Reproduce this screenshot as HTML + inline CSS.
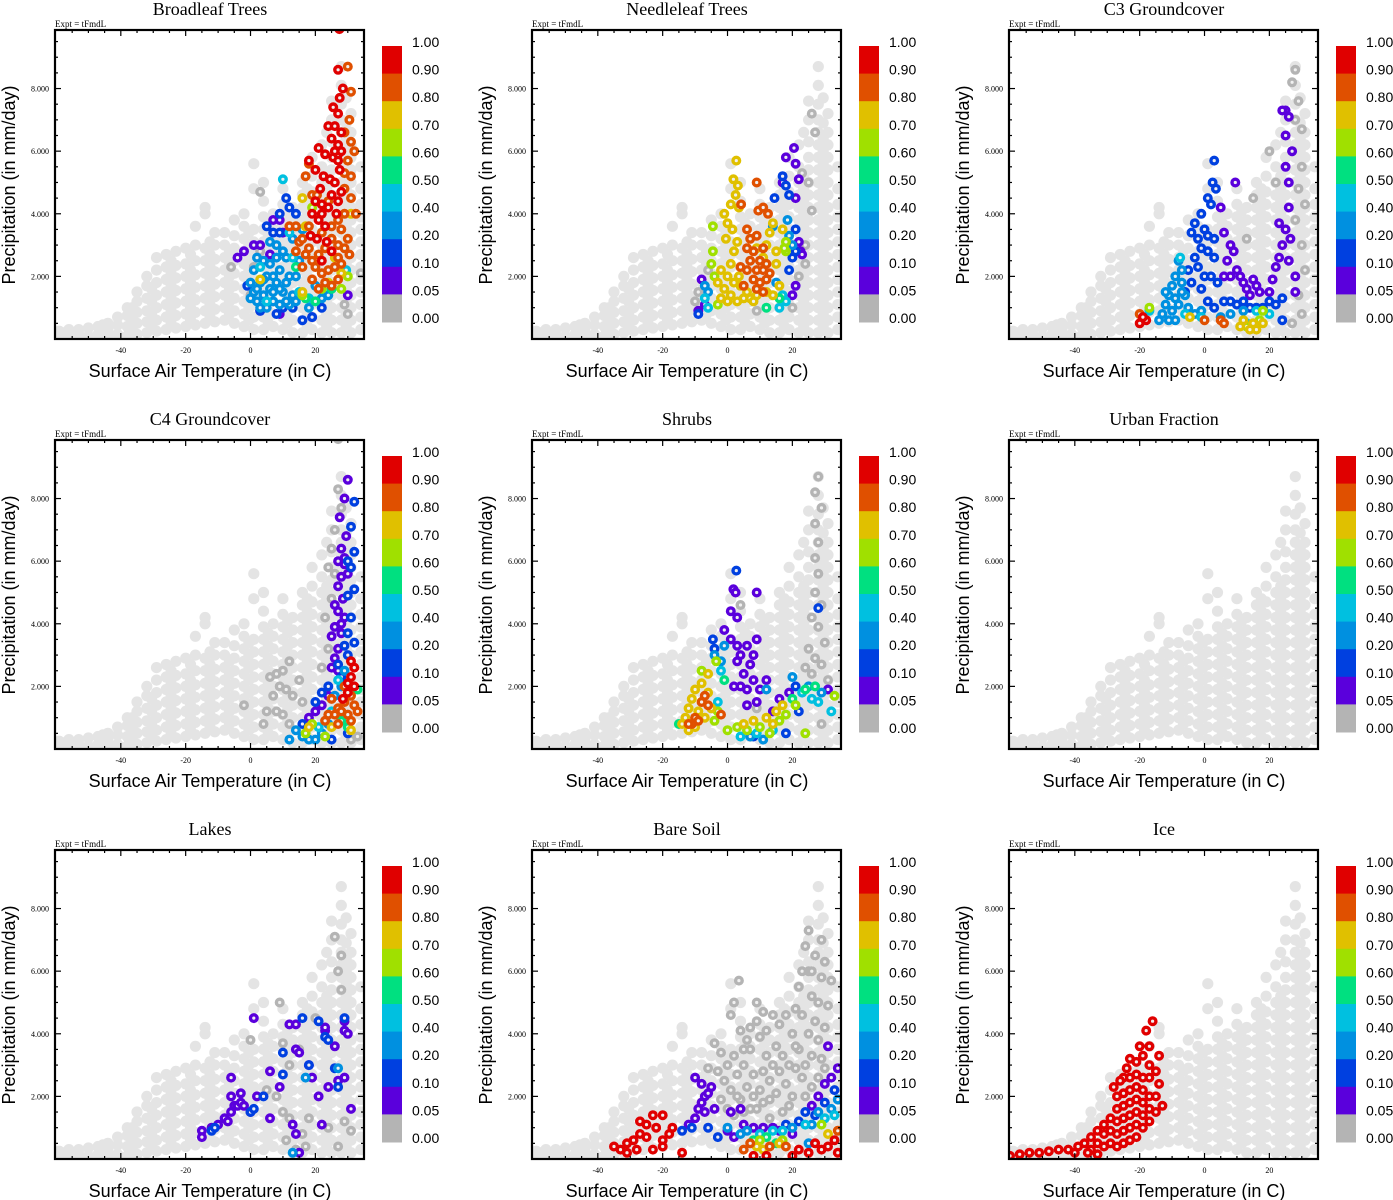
<!DOCTYPE html>
<html><head><meta charset="utf-8">
<style>
html,body{margin:0;padding:0;background:#fff;}
svg{display:block;}
.ttl{font-family:"Liberation Serif",serif;font-size:18px;}
.expt{font-family:"Liberation Serif",serif;font-size:9px;}
.tk{font-family:"Liberation Serif",serif;font-size:8px;}
.axt{font-family:"Liberation Sans",sans-serif;font-size:18px;}
.cbl{font-family:"Liberation Sans",sans-serif;font-size:14px;}
</style></head>
<body>
<svg id="fig" width="1393" height="1200" viewBox="0 0 1393 1200" xmlns="http://www.w3.org/2000/svg"></svg>
<script>
// ---- data ----
const panelTitles = ["Broadleaf Trees","Needleleaf Trees","C3 Groundcover","C4 Groundcover","Shrubs","Urban Fraction","Lakes","Bare Soil","Ice"];
const xTicks = [-40,-20,0,20];
const yTicks = [2,4,6,8];
const yTickLabels = ["2.000","4.000","6.000","8.000"];
const cbLabels = ["1.00","0.90","0.80","0.70","0.60","0.50","0.40","0.20","0.10","0.05","0.00"];
const cbBounds = [0.05,0.1,0.2,0.4,0.5,0.6,0.7,0.8,0.9];
const cbColors = ["#b4b4b4","#5a00dc","#0040e0","#0090e0","#00c0e0","#00e080","#a0e000","#e0c000","#e05000","#e00000"];
// background cloud: each row = [T, P values...]
const cloud = [
[-59,0.1,0.25],[-56,0.1,0.3],[-53,0.15,0.3],[-50,0.1,0.35],[-47,0.15,0.4],[-44,0.1,0.3,0.5],[-41,0.15,0.45,0.7],
[-38,0.1,0.4,0.75,1.0],[-35,0.15,0.5,0.85,1.2,1.5],[-32,0.2,0.55,0.9,1.3,1.7,2.0],[-29,0.25,0.6,1.0,1.4,1.8,2.2,2.6],
[-26,0.3,0.7,1.1,1.5,1.9,2.3,2.7],[-23,0.35,0.75,1.15,1.55,1.95,2.35,2.8],[-20,0.4,0.8,1.2,1.6,2.0,2.4,2.9],
[-17,0.45,0.85,1.25,1.65,2.05,2.5,3.0,3.6],[-14,0.5,0.9,1.3,1.7,2.1,2.5,2.9,4.0,4.2],[-11,0.55,0.95,1.35,1.75,2.15,2.55,3.0,3.4],
[-8,0.6,1.0,1.4,1.8,2.2,2.6,3.0,3.4],[-5,0.5,0.9,1.3,1.7,2.1,2.5,2.9,3.3,3.8],[-2,0.4,0.8,1.2,1.6,2.0,2.4,2.8,3.2,3.6,4.0],
[1,0.3,0.7,1.1,1.5,1.9,2.3,2.7,3.1,3.5,4.8,5.6],[4,0.3,0.7,1.1,1.5,1.9,2.3,2.7,3.1,3.5,3.9,4.4,5.0],
[7,0.4,0.8,1.2,1.6,2.0,2.4,2.8,3.2,3.6,4.0],[10,0.3,0.7,1.1,1.5,1.9,2.3,2.7,3.1,3.5,3.9,4.3,4.8],
[13,0.2,0.6,1.0,1.4,1.8,2.2,2.6,3.0,3.4,3.8,4.2],[16,0.2,0.6,1.0,1.4,1.8,2.2,2.6,3.0,3.4,3.8,4.2,4.6,5.0],
[19,0.3,0.7,1.1,1.5,1.9,2.3,2.7,3.1,3.5,3.9,4.3,4.7,5.2,5.8],[22,0.2,0.6,1.0,1.4,1.8,2.2,2.6,3.0,3.4,3.8,4.2,4.6,5.0,5.5,6.2],
[25,0.2,0.6,1.0,1.4,1.8,2.2,2.6,3.0,3.4,3.8,4.2,4.6,5.0,5.4,5.8,6.3,7.0,7.6],
[28,0.2,0.6,1.0,1.4,1.8,2.2,2.6,3.0,3.4,3.8,4.2,4.6,5.0,5.4,5.8,6.2,6.6,7.0,7.5,8.1,8.7],
[31,0.2,0.6,1.0,1.4,1.8,2.2,2.6,3.0,3.4,3.8,4.2,4.6,5.0,5.4,5.8,6.2,6.6,7.2],
[34,0.3,0.7,1.1,1.5,1.9,2.3,2.7,3.1,3.5,3.9,4.3,4.8,5.5],
[-57.5,0.2],[-45.5,0.2,0.45],[-36.5,0.3,0.65,1.0],[-30.5,0.4,0.8,1.2,1.6],[-24.5,0.5,0.9,1.3,1.7,2.1,2.5],[-18.5,0.6,1.0,1.4,1.8,2.2,2.7],
[-12.5,0.7,1.1,1.5,1.9,2.3,2.7,3.1],[-6.5,0.8,1.2,1.6,2.0,2.4,2.8],[-0.5,0.6,1.0,1.4,1.8,2.2,2.6,3.0,3.4],
[5.5,0.5,0.9,1.3,1.7,2.1,2.5,2.9,3.3,3.7],[11.5,0.5,0.9,1.3,1.7,2.1,2.5,2.9,3.3,3.7,4.1],
[17.5,0.4,0.8,1.2,1.6,2.0,2.4,2.8,3.2,3.6,4.0,4.4,4.8],[23.5,0.4,0.8,1.2,1.6,2.0,2.4,2.8,3.2,3.6,4.0,4.4,4.8,5.2,6.6],
[29.5,0.4,0.8,1.2,1.6,2.0,2.4,2.8,3.2,3.6,4.0,4.4,4.8,5.2,5.6,6.0,6.4,6.9,7.7]
];
const broadleafPts = [
[0,[[1,2.3],[-6,2.3],[3,4.7],[3,2.8],[30,0.8],[29,1.1],[34,2.1],[0,1.4]]],
[0.07,[[1,3.0],[3,3.0],[-4,2.6],[-2,2.8],[6,2.7],[7,3.8],[9,3.8],[10,3.4],[9,0.8],[19,0.7],[11,1.1],[3,0.9],[30,1.4],[5,2.5]]],
[0.15,[[5,3.6],[7,3.4],[9,3.4],[9,4.0],[11,4.5],[12,4.2],[14,4.0],[-1,1.7],[10,1.0],[13,1.0],[21,1.2],[22,1.0],[19,0.7],[8,0.8],[3,0.9],[16,0.6]]],
[0.3,[[0,1.8],[1,1.5],[2,1.2],[3,1.8],[4,1.4],[5,2.0],[6,1.6],[7,1.2],[8,1.8],[9,2.2],[10,1.5],[11,2.6],[12,2.0],[1,2.2],[3,1.0],[6,2.4],[8,2.6],[10,2.8],[13,1.4],[14,2.0],[2,2.6],[4,2.5],[5,1.0],[7,2.0],[9,1.1],[11,1.8],[12,1.1],[0,1.3],[13,3.2],[15,2.5],[16,3.5],[14,1.2],[6,3.1],[8,3.0],[9,1.6],[4,1.9],[2,1.6],[7,1.5],[11,1.2],[18,1.0],[20,1.7],[22,1.3],[24,1.4]]],
[0.45,[[10,5.1],[12,3.4],[3,2.3],[13,2.6],[15,1.5],[18,1.3],[29.5,2.2],[5,1.2]]],
[0.55,[[14,2.3],[17,1.3],[20,1.2],[25,1.6]]],
[0.65,[[19,4.2],[30,2.0],[16,1.4],[22,1.6],[28,1.6]]],
[0.75,[[16,4.5],[31,4.0],[17,3.6],[26,2.6],[3,1.9],[16,1.5],[24,1.8],[28,2.1]]],
[0.85,[[30,8.7],[31,7.9],[30.5,7.0],[29,6.6],[31,6.3],[32,6.0],[30,5.7],[29,5.3],[31,5.2],[17,5.2],[18,5.6],[19,4.6],[20.5,4.6],[24,4.4],[29,4.8],[31,4.5],[32.5,4.0],[29,4.0],[27,3.8],[25,3.6],[28,3.5],[30,3.2],[29,2.9],[27,2.6],[25,3.2],[23,2.9],[21,2.7],[19,2.5],[17,2.7],[15,3.1],[14,2.8],[16,3.2],[18,2.9],[20,2.3],[22,2.1],[24,2.2],[26,2.3],[28,2.4],[19,1.9],[21,1.6],[23,1.8],[25,1.7],[27,1.9],[16,2.3],[14,3.6],[12,3.6],[18,3.6],[30.5,2.7],[27,3.0],[22,3.4]]],
[0.95,[[27.4,9.9],[27,8.6],[28.5,8.0],[27.5,7.7],[25.5,7.4],[27,7.2],[24,6.8],[26,6.8],[28,6.6],[25,6.4],[27,6.2],[21,6.1],[23,5.9],[25.5,5.8],[27,5.7],[18,5.7],[20,5.4],[22.5,5.2],[24.5,5.1],[27.5,5.4],[26,5.0],[21.5,4.8],[25,4.6],[28,4.7],[20,4.4],[22,4.3],[24,4.2],[26.5,4.0],[19,4.0],[21,3.8],[23,3.6],[18.5,3.3],[20.5,3.2],[23.5,3.1],[25,2.8],[22,2.5],[27,5.9],[26,6.0],[28,6.0],[27,4.4],[22,4.0]]]
];
const needleleafPts = [
[0,[[26,7.2],[27,6.6],[23,5.3],[25,5.0],[26,4.1],[24,3.0],[24,2.4],[22,2.0],[-10,1.2],[-9,1.5],[-6,2.2],[9,0.9],[20,1.0]]],
[0.07,[[20.5,6.1],[18,5.8],[21,5.6],[22,5.1],[17,5.0],[21,4.5],[22,3.1],[22.5,2.8],[23,2.7],[21,1.7],[-8,1.9],[-9,0.9],[20,1.4],[-7,1.1]]],
[0.15,[[18,4.9],[17,5.2],[14.5,4.5],[19,4.6],[21,3.5],[21,2.8],[19,2.2],[20,2.6],[-9,0.8]]],
[0.3,[[-7,1.7],[-6,1.5],[14,3.6],[18.5,3.8],[19,3.3],[20,3.0],[15,1.8]]],
[0.45,[[-7,1.3],[-6,1.0],[17,1.4],[18,1.2],[16,1.0]]],
[0.55,[[12,1.0],[16,1.3]]],
[0.65,[[-4.5,3.6],[-4.5,2.8],[-5,2.4],[-4,2.0],[18,3.1],[18,2.8],[17.5,2.9],[-3,1.1]]],
[0.75,[[2.7,5.7],[1.8,5.1],[3.2,4.9],[2.5,4.6],[1,4.3],[3.5,4.2],[-1,4.0],[0,3.7],[1.5,3.5],[3,3.1],[-0.5,3.2],[2,2.8],[1,2.4],[3.5,2.0],[0,2.0],[-2,2.2],[-3,1.8],[-1,1.6],[1,1.4],[3,1.2],[5,1.3],[-2,1.3],[0,1.2],[2,1.8],[4,1.7],[6,1.5],[7,1.3],[8,1.2],[9,1.4],[12,1.5],[14,1.4],[13,3.4],[12,3.0],[14,3.7],[11,2.6],[9,2.9],[15,2.8],[17,3.5],[15,2.4],[16,1.7]]],
[0.85,[[9,5.0],[4.2,4.3],[9.5,4.1],[11,4.2],[12.5,4.0],[6,3.5],[7,3.2],[9,3.3],[6,2.9],[8,2.8],[7,2.5],[4,2.3],[6,2.2],[5,1.7],[9,2.2],[10,2.5],[11,2.2],[12,1.9],[10,1.8],[11,1.5],[9,1.6],[12,2.4],[11,2.9],[8,1.9],[13,2.1]]]
];
const c3Pts = [
[0,[[28,8.6],[27,8.2],[29,7.6],[28,7.0],[30,6.7],[27,6.0],[30,5.5],[29,4.8],[31,4.3],[28,3.8],[30,3.0],[31,2.2],[29,1.4],[22,5.0],[20,6.0],[15,4.5],[13,3.2],[30,0.8],[27,0.5]]],
[0.07,[[9.5,5.0],[5,4.2],[6,3.4],[8,3.0],[9,2.8],[7,2.5],[10,2.2],[11,2.0],[12,1.8],[13,1.6],[14,1.4],[15,1.9],[16,1.7],[17,1.5],[8,2.0],[6,2.0],[20,1.5],[21,1.9],[22,2.3],[23,2.6],[24,3.0],[25,3.5],[26,4.2],[26,5.0],[25,5.5],[27,6.0],[25,6.5],[25,7.3],[26,7.1],[24,7.3],[26.5,3.2],[23,3.7],[26,2.5],[28,1.5],[28,2.0]]],
[0.15,[[3,5.7],[2.5,5.0],[3.5,4.8],[1,4.5],[2,4.3],[-1,4.0],[0,3.5],[-2,3.2],[-4,3.4],[-3,3.7],[1,3.3],[3,3.2],[-1,2.9],[1,2.8],[3,2.6],[-3,2.6],[-5,2.2],[-2,2.3],[0,2.0],[2,2.0],[4,1.8],[-4,1.8],[-1,1.6],[6,1.2],[8,1.2],[10,1.1],[12,1.2],[14,1.0],[16,1.0],[18,1.0],[20,1.2],[22,1.1],[-6,1.5],[1,1.2],[3,1.0],[24,1.3],[24,0.6]]],
[0.3,[[-8,2.5],[-7,2.2],[-9,2.0],[-10,1.7],[-7,1.8],[-11,1.4],[-9,1.3],[-12,1.1],[-13,0.8],[-10,0.9],[-8,1.1],[-6,1.4],[-14,0.6],[-11,0.6],[-5,1.0],[-3,0.8],[-1,0.9],[5,0.7],[8,0.8],[12,0.9],[-7,1.5],[-12,1.5],[-9,0.6]]],
[0.45,[[-17,0.9],[-7.5,2.6],[-6,0.8],[-1,0.7],[13,0.5],[16,0.9],[20,0.8]]],
[0.65,[[-17,1.0],[13,0.4],[17,0.6],[18,0.9]]],
[0.75,[[-4.5,0.7],[11,0.4],[12,0.6],[15,0.5],[16,0.3],[18,0.5],[14,0.3]]],
[0.85,[[-20,0.8],[0,0.6],[5,0.6],[6,0.5]]],
[0.95,[[-20,0.5],[-18,0.6],[-19,0.7]]]
];
const c4Pts = [
[0,[[27,9.9],[27,8.3],[28,7.7],[26,7.0],[25,6.4],[24,5.8],[26,5.6],[25,4.8],[23,4.2],[24,3.2],[22,2.6],[12,2.8],[10,2.5],[8,2.4],[6,2.3],[9,2.0],[11,1.9],[13,1.7],[7,1.7],[5,1.2],[8,1.2],[10,1.1],[12,0.8],[4,0.8],[-2,1.4],[15,2.2],[16,1.5],[31,0.3],[33,0.4]]],
[0.07,[[30,8.6],[29,8.0],[27.5,7.4],[29.5,6.8],[28,6.4],[27,6.0],[29,5.9],[28,5.5],[27,5.2],[28.5,4.8],[27,4.4],[29,4.2],[26,3.9],[28,3.7],[25,3.6],[27,3.2],[26,2.9],[25,2.6],[27,2.5],[24,1.7],[22,1.4],[20,1.2],[18,1.0],[28,4.0],[29,6.1],[26,4.6],[30,5.6]]],
[0.15,[[32,7.9],[31,7.1],[32,6.3],[30,6.0],[31,5.8],[32,5.1],[30,4.9],[31,4.2],[30,3.7],[32,3.4],[29,3.3],[30,3.0],[24,2.0],[22,1.8],[27,2.7],[28,2.3],[20,1.5],[16,0.8],[30,0.5],[25,0.3]]],
[0.3,[[29,2.5],[28,2.0],[26,1.7],[14,0.6],[16,0.4],[18,0.3],[20,0.3],[22,0.5],[24,0.8],[12,0.3]]],
[0.45,[[27,2.2],[25,1.2],[21,0.7]]],
[0.55,[[33,1.9],[30,0.7],[28,0.9]]],
[0.65,[[23,0.4],[17,0.5],[19,0.8]]],
[0.75,[[18,0.7],[25,0.7],[31,0.6]]],
[0.85,[[25,1.6],[27,1.3],[29,1.5],[31,1.7],[26,1.1],[28,1.2],[30,1.1],[32,1.4],[24,1.1],[23,0.9],[29,2.0],[27,0.8],[31,0.9],[33,1.2]]],
[0.95,[[31,2.3],[32,2.0],[30,1.8],[31,2.8],[32,2.6],[28.5,1.6],[30,2.1]]]
];
const shrubsPts = [
[0,[[28,8.7],[27,8.2],[29,7.7],[27,7.2],[28,6.6],[27,6.1],[28,5.6],[27,5.0],[29,4.6],[26,4.2],[28,3.9],[30,3.4],[25,3.2],[27,2.9],[24,2.6],[26,2.4],[29,2.7],[31,2.2],[4,4.6],[9,1.3],[29,0.8]]],
[0.07,[[1.8,5.1],[2.5,5.0],[9,5.0],[1,4.4],[3,4.2],[-1,3.8],[1,3.5],[3,3.3],[4,3.0],[6,3.3],[8,3.0],[9,3.5],[7,2.7],[5,2.4],[4,2.0],[6,1.9],[8,2.2],[9,1.5],[10,1.9],[12,2.2],[2,2.0],[3,2.8],[6,1.4],[14,1.2],[16,1.6],[19,1.8],[31,1.9]]],
[0.15,[[2.7,5.7],[-4.5,3.5],[-4,3.2],[21,2.0],[28,4.5],[8,0.4],[22,1.2],[18,0.5]]],
[0.3,[[-4,3.0],[-2,2.8],[-1,3.3],[20,2.3],[25,2.0],[29,1.8],[12,1.9],[7,0.4],[11,0.3]]],
[0.45,[[-2,2.5],[4,0.4],[9,0.5],[14,0.6],[23,1.8],[26,1.6],[28,1.5],[32,1.2],[-3,1.5]]],
[0.55,[[-1,2.2],[20,1.6],[24,1.9],[27,2.0],[-15,0.8]]],
[0.65,[[-3,1.2],[-4,0.9],[0,0.6],[3,0.7],[6,0.6],[10,0.7],[13,0.5],[16,0.9],[18,1.1],[21,1.4],[-3.5,2.8],[-8,2.5],[24,0.5],[33,1.7]]],
[0.75,[[-14,0.8],[-13,1.0],[-12,1.3],[-11,1.6],[-10,1.9],[-8,2.1],[-6,2.4],[-9,1.2],[-7,1.0],[-8,1.5],[-6,1.8],[-5,1.3],[-10,0.7],[-12,0.6],[5,0.8],[8,0.9],[12,1.0],[15,1.2],[17,1.4],[14,0.8]]],
[0.85,[[-7,1.7],[-8,1.5],[-6,1.4],[-10,1.0],[-11,0.8],[-9,0.9],[-12,0.8],[-2,1.1]]]
];
const urbanPts = [];
const lakesPts = [
[0,[[9,5.0],[0,3.8],[10,3.7],[12,3.0],[15,3.5],[20,4.5],[5,2.2],[8,2.0],[10,1.5],[12,1.3],[18,1.3],[16,0.8],[11,0.6],[14,0.3],[17,0.4],[26,7.1],[28,6.5],[27,6.0],[28,5.4],[24,1.0],[27,0.4],[31,0.9],[29,1.2]]],
[0.07,[[-15,0.9],[-15,0.7],[-12,1.0],[-10,1.1],[-8,1.3],[-7,1.2],[-6,1.5],[-5,1.7],[-4,1.7],[-3,1.8],[-2,1.7],[0,1.5],[2,2.0],[-6,2.0],[-3,2.1],[-6,2.6],[1,4.5],[6,2.8],[9,2.3],[12,4.3],[14,4.3],[14,3.5],[15,3.4],[18,3.0],[23,4.1],[23,4.2],[19,2.6],[21,2.0],[24,2.3],[29,4.4],[29,4.1],[30,4.0],[29,2.6],[26,3.6],[27,2.5],[31,1.6],[22,1.1],[13,1.1],[14,0.8],[15,0.2],[6,1.3]]],
[0.15,[[-12,0.9],[-11,1.0],[0,1.5],[1,1.6],[4,2.0],[10,3.4],[10,2.7],[16,4.5],[21,4.4],[23,3.9],[24,3.8],[18,3.0],[26,2.9],[29,4.5],[27,2.3]]],
[0.3,[[17,2.6],[27,2.9],[13,0.2]]]
];
const bareSoilPts = [
[0,[[3.5,5.7],[2,5.0],[1,4.6],[4,4.1],[-4,3.7],[-2,3.4],[0,3.0],[2,3.3],[-3,2.8],[-1,2.5],[1,2.2],[3,2.7],[5,3.0],[7,3.5],[9,5.0],[9,4.4],[10,3.9],[12,4.1],[12,3.3],[14,3.0],[13,2.5],[11,2.8],[10,2.2],[8,2.0],[6,2.3],[4,1.9],[5,1.5],[7,1.6],[9,1.6],[11,1.8],[13,1.9],[15,2.1],[16,2.8],[17,3.3],[15,3.6],[18,2.4],[20,2.0],[19,1.7],[17,1.5],[20,4.0],[21,4.8],[22,5.5],[24,6.8],[25,7.3],[23,6.0],[25,6.0],[26,5.2],[27,6.5],[28,5.0],[27,4.4],[25,4.0],[22,3.5],[24,3.0],[26,3.3],[28,3.8],[29,3.2],[30,4.2],[31,4.9],[32,5.7],[29,5.8],[28,2.6],[26,2.3],[23,2.6],[21,2.9],[24,2.0],[-6,2.9],[0,1.6],[-2,1.9],[2,1.4],[13,1.3],[6,3.8],[8,2.7],[19,3.0],[30,2.9],[7,4.2],[3,2.0],[16,4.3],[18,4.6],[14,4.6],[11,4.7],[5,3.5],[21,3.6],[23,4.6],[26,6.0],[30,6.3],[29,7.0]]],
[0.07,[[-12,1.1],[-10,1.3],[-9,1.6],[-8,1.8],[-7,2.0],[-6,2.1],[-5,2.3],[-8,2.4],[-7,1.5],[-4,1.6],[-10,2.6],[0,0.9],[2,0.7],[5,1.1],[8,1.0],[11,1.0],[14,1.0],[16,0.9],[20,0.8],[26,1.7],[28,2.0],[30,2.4],[31,3.6],[34,2.9],[32,2.6],[1,1.5],[4,1.6]]],
[0.15,[[-14,0.9],[-11,1.0],[-6,1.0],[-3,0.7],[18,1.1],[22,1.2],[24,1.5],[27,1.4],[30,1.8],[33,2.2]]],
[0.3,[[0,1.0],[4,0.8],[6,0.9],[20,1.0],[26,1.1],[28,1.5],[32,1.6],[34,1.9],[25,0.5]]],
[0.45,[[10,0.8],[14,0.9],[17,0.9],[24,1.1],[30,1.3],[33,1.4]]],
[0.55,[[8,0.6],[12,0.7],[15,0.5]]],
[0.65,[[10,0.6],[17,0.6],[29,1.1]]],
[0.75,[[9,0.4],[11,0.3],[16,0.5],[31,0.8]]],
[0.85,[[5,0.3],[7,0.5],[13,0.4],[18,0.4],[34,0.9]]],
[0.95,[[-35,0.4],[-33,0.3],[-31,0.5],[-29,0.6],[-27,0.8],[-25,0.7],[-27,1.2],[-25,1.1],[-23,1.4],[-22,1.0],[-20,0.6],[-18,0.8],[-20,0.4],[-23,0.3],[-28,0.3],[-31,0.2],[-17,1.0],[-20,1.4],[-14,0.2],[8,0.1],[12,0.1],[20,0.1],[22,0.3],[25,0.2],[27,0.5],[29,0.3],[31,0.4],[33,0.6],[34,0.2]]]
];
const icePts = [
[0.95,[[-60,0.1],[-57,0.15],[-54,0.2],[-51,0.2],[-48,0.25],[-45,0.3],[-42,0.3],[-39,0.4],[-37,0.5],[-35,0.3],[-35,0.7],[-33,0.5],[-33,0.9],[-31,0.4],[-31,0.8],[-31,1.1],[-29,0.5],[-29,0.9],[-29,1.3],[-27,0.4],[-27,0.8],[-27,1.2],[-27,1.6],[-25,0.5],[-25,0.9],[-25,1.3],[-25,1.7],[-25,2.1],[-25,2.6],[-23,0.6],[-23,1.0],[-23,1.4],[-23,1.8],[-23,2.2],[-23,2.6],[-23,3.2],[-21,0.7],[-21,1.1],[-21,1.5],[-21,1.9],[-21,2.3],[-21,2.7],[-21,3.1],[-20,3.6],[-19,1.0],[-19,1.4],[-19,1.8],[-19,2.2],[-19,2.6],[-19,3.3],[-18,4.1],[-17,1.2],[-17,1.6],[-17,2.0],[-17,2.6],[-17,3.0],[-17,3.6],[-16,4.4],[-15,1.5],[-15,2.0],[-15,2.8],[-14,3.3],[-14,2.4],[-13,1.7],[-28,2.3],[-26,2.5],[-24,2.9],[-27,2.0],[-40,0.2],[-36,0.2],[-33,0.15]]]
];
const panelData = [broadleafPts,needleleafPts,c3Pts,c4Pts,shrubsPts,urbanPts,lakesPts,bareSoilPts,icePts];

// ---- layout ----
const NS = "http://www.w3.org/2000/svg";
const svg = document.getElementById('fig');
const colOff = [0,477,954], rowOff = [0,410,820];
const PL = 55, PR = 364, PT = 30, PB = 339;
const TMIN = -60.3, TMAX = 35, PMIN = 0, PMAX = 9.87;
function xs(t){ return PL + (t - TMIN) / (TMAX - TMIN) * (PR - PL); }
function ys(p){ return PB - (p - PMIN) / (PMAX - PMIN) * (PB - PT); }
function colorOf(v){ let i = 0; while (i < cbBounds.length && v >= cbBounds[i]) i++; return cbColors[i]; }
function mk(tag, attrs, parent){ const e = document.createElementNS(NS, tag); for (const k in attrs) e.setAttribute(k, attrs[k]); parent.appendChild(e); return e; }

const defs = mk('defs', {}, svg);
const clip = mk('clipPath', {id:'plotclip'}, defs);
mk('rect', {x:PL, y:PT, width:PR-PL, height:PB-PT}, clip);

panelTitles.forEach((title, k) => {
  const g = mk('g', {transform:`translate(${colOff[k%3]},${rowOff[Math.floor(k/3)]})`}, svg);
  
  

  const tt = mk('text', {x:210, y:15, 'text-anchor':'middle', class:'ttl'}, g);
  tt.textContent = title;
  
  

  const ex = mk('text', {x:PL, y:27, class:'expt'}, g);
  ex.textContent = 'Expt = tFmdL';
  
  

  // points
  const pg = mk('g', {'clip-path':'url(#plotclip)'}, g);
  
  
  cloud.forEach(row => {
    for (let j = 1; j < row.length; j++) {
      const c = mk('circle', {cx:xs(row[0]).toFixed(1), cy:ys(row[j]).toFixed(1), r:5.6, fill:'#e4e4e4'}, pg);
      
      
    }
  });
  panelData[k].forEach(grp => {
    const col = colorOf(grp[0]);
    grp[1].forEach(pt => {
      const c = mk('circle', {cx:xs(pt[0]).toFixed(1), cy:ys(pt[1]).toFixed(1), r:3.3, fill:'#f0f0f0', stroke:col, 'stroke-width':3.4}, pg);
      
      
    });
  });

  // ticks
  const tk = mk('g', {stroke:'#000', 'stroke-width':1.2}, g);
  
  
  for (let t = -60; t <= 35; t += 5) {
    const x = xs(t); if (x < PL+1 || x > PR-1) continue;
    const L = (t % 20 === 0) ? 6 : 3;
    mk('line', {x1:x, y1:PB, x2:x, y2:PB-L}, tk);
    mk('line', {x1:x, y1:PT, x2:x, y2:PT+L}, tk);
  }
  for (let p = 0.5; p < 9.9; p += 0.5) {
    const y = ys(p);
    const L = (Math.abs(p % 2) < 1e-6) ? 6 : 3;
    mk('line', {x1:PL, y1:y, x2:PL+L, y2:y}, tk);
    mk('line', {x1:PR, y1:y, x2:PR-L, y2:y}, tk);
  }
  xTicks.forEach(t => {
    const l = mk('text', {x:xs(t), y:353, 'text-anchor':'middle', class:'tk'}, g);
    l.textContent = String(t);
    
    
  });
  yTicks.forEach((p, i) => {
    const l = mk('text', {x:49, y:ys(p)+3, 'text-anchor':'end', class:'tk'}, g);
    l.textContent = yTickLabels[i];
    
    
  });
  const fr = mk('rect', {x:PL, y:PT, width:PR-PL, height:PB-PT, fill:'none', stroke:'#000', 'stroke-width':2.2}, g);
  
  

  const xt = mk('text', {x:210, y:377, 'text-anchor':'middle', class:'axt'}, g);
  xt.textContent = 'Surface Air Temperature (in C)';
  
  
  const yt = mk('text', {x:0, y:0, 'text-anchor':'middle', class:'axt', transform:'translate(15,185) rotate(-90)'}, g);
  yt.textContent = 'Precipitation (in mm/day)';
  
  

  // colorbar
  const cb = mk('g', {}, g);
  
  
  const CBT = 46, CBH = 27.6;
  for (let i = 0; i < 10; i++) {
    const r = mk('rect', {x:382, y:CBT + i*CBH, width:20, height:CBH+0.5, fill:cbColors[9-i]}, cb);
    
    
  }
  cbLabels.forEach((s, i) => {
    const l = mk('text', {x:412, y:CBT + i*CBH + 1, class:'cbl'}, cb);
    l.textContent = s;
    
    
  });
});
</script>
</body></html>
